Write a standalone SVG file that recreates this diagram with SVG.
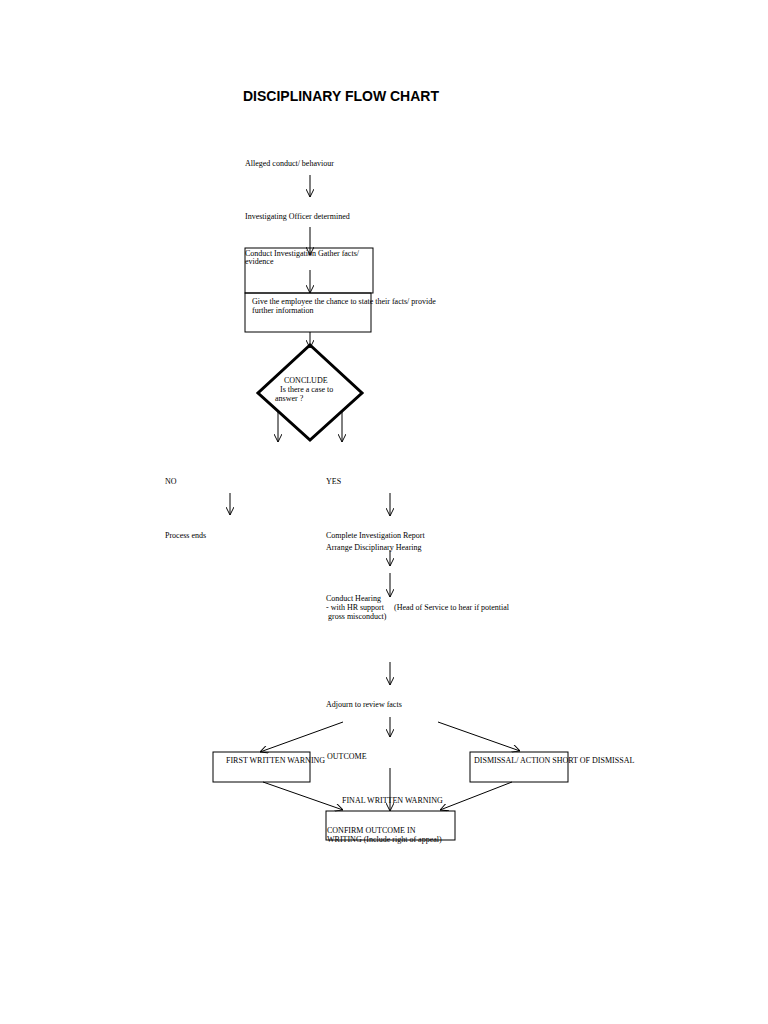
<svg xmlns="http://www.w3.org/2000/svg" width="768" height="1024" viewBox="0 0 768 1024">
<style>
text{font-family:"Liberation Serif",serif;font-size:8px;fill:#000}
.t{font-family:"Liberation Sans",Arial,sans-serif;font-size:14px;font-weight:bold}
.b{fill:none;stroke:#000;stroke-width:1}
.c line{stroke:#000;stroke-width:1;marker-end:url(#a)}
</style>
<defs><marker id="a" viewBox="0 0 10 10" refX="10" refY="5" markerWidth="8" markerHeight="8" orient="auto" markerUnits="userSpaceOnUse"><path d="M0,0L10,5L0,10" fill="none" stroke="#000" stroke-width="1.2"/></marker></defs>
<rect width="768" height="1024" fill="#fff"/>
<text class="t" x="243" y="101">DISCIPLINARY FLOW CHART</text>
<g id="n1"><text x="245" y="166">Alleged conduct/ behaviour</text></g>
<g id="n2"><text x="245" y="219">Investigating Officer determined</text></g>
<g id="n3"><rect class="b" x="245" y="248" width="128" height="45"/><text x="245" y="256">Conduct Investigation Gather facts/</text><text x="245" y="264">evidence</text></g>
<g id="n4"><rect class="b" x="245" y="293" width="126" height="39"/><text x="252" y="304">Give the employee the chance to state their facts/ provide</text><text x="252" y="313">further information</text></g>
<g id="n5"><polygon points="310,345 362,393 310,440 258,393" fill="#fff" stroke="#000" stroke-width="3"/><text x="284" y="383">CONCLUDE</text><text x="280" y="392">Is there a case to</text><text x="275" y="401">answer ?</text></g>
<g id="n6"><text x="165" y="484">NO</text></g>
<g id="n7"><text x="326" y="484">YES</text></g>
<g id="n8"><text x="165" y="538">Process ends</text></g>
<g id="n9"><text x="326" y="538">Complete Investigation Report</text><text x="326" y="550">Arrange Disciplinary Hearing</text></g>
<g id="n10"><text x="326" y="601">Conduct Hearing</text><text x="326" y="610">- with HR support</text><text x="394" y="610">(Head of Service to hear if potential</text><text x="328" y="619">gross misconduct)</text></g>
<g id="n11"><text x="326" y="707">Adjourn to review facts</text></g>
<g id="n12"><rect class="b" x="213" y="752" width="97" height="30"/><text x="226" y="763">FIRST WRITTEN WARNING</text></g>
<g id="n13"><text x="327" y="759">OUTCOME</text></g>
<g id="n14"><rect class="b" x="470" y="752" width="98" height="30"/><text x="474" y="763">DISMISSAL/ ACTION SHORT OF DISMISSAL</text></g>
<g id="n15"><text x="342" y="803">FINAL WRITTEN WARNING</text></g>
<g id="n16"><rect class="b" x="326" y="811" width="129" height="29"/><text x="327" y="833">CONFIRM OUTCOME IN</text><text x="327" y="842">WRITING (Include right of appeal)</text></g>
<g class="c" id="connectors">
<line x1="310" y1="175" x2="310" y2="197"/>
<line x1="310" y1="227" x2="310" y2="255"/>
<line x1="310" y1="270" x2="310" y2="293"/>
<line x1="310" y1="332" x2="310" y2="348"/>
<line x1="278" y1="410" x2="278" y2="442"/>
<line x1="342" y1="410" x2="342" y2="442"/>
<line x1="230" y1="493" x2="230" y2="515"/>
<line x1="390" y1="493" x2="390" y2="516"/>
<line x1="390" y1="550" x2="390" y2="566"/>
<line x1="390" y1="573" x2="390" y2="597"/>
<line x1="390" y1="662" x2="390" y2="685"/>
<line x1="390" y1="717" x2="390" y2="737"/>
<line x1="343" y1="722" x2="260" y2="752"/>
<line x1="438" y1="722" x2="520" y2="751"/>
<line x1="390" y1="768" x2="390" y2="811"/>
<line x1="263" y1="782" x2="343" y2="810"/>
<line x1="512" y1="782" x2="440" y2="810"/>
</g>
</svg>
